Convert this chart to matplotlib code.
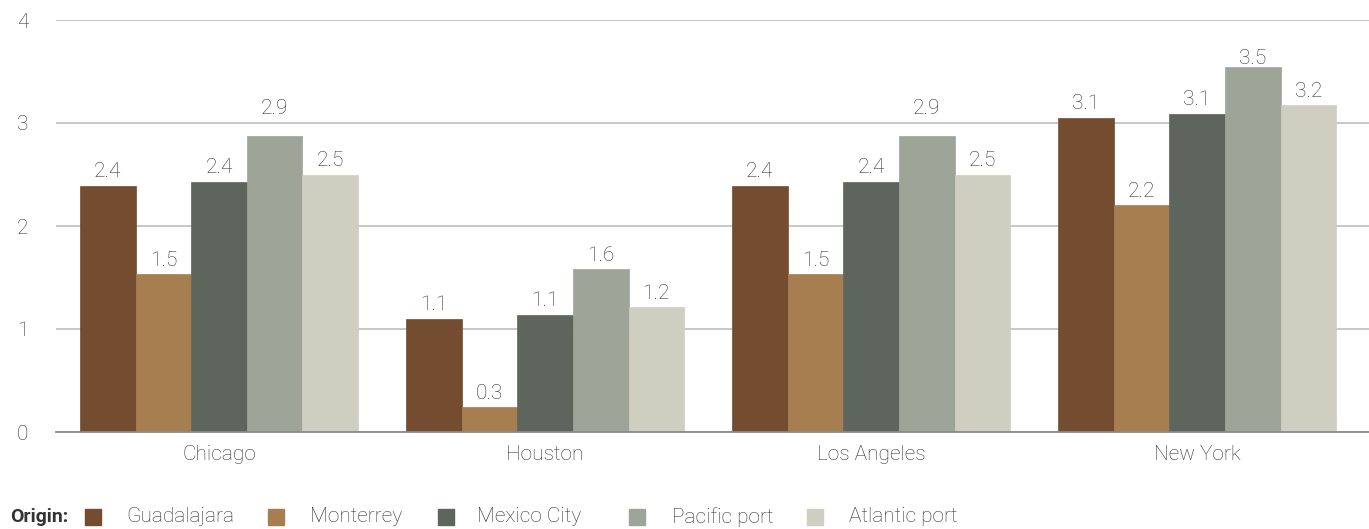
import numpy as np
import matplotlib
matplotlib.use("Agg")
from matplotlib import pyplot as plt
from matplotlib.patches import Rectangle

# データ
cities = ["Chicago", "Houston", "Los Angeles", "New York"]
origins = ["Guadalajara", "Monterrey", "Mexico City", "Pacific port", "Atlantic port"]
colors = ["#744D30", "#A67E4F", "#5E655C", "#9FA499", "#CECFC1"]

guadalajara = [2.39, 1.10, 2.39, 3.05]
monterrey = [1.53, 0.24, 1.53, 2.20]
mexico_city = [2.43, 1.14, 2.43, 3.09]
pacific_port = [2.87, 1.58, 2.87, 3.54]
atlantic_port = [2.50, 1.21, 2.50, 3.17]

guadalajara_lbl = ["2.4", "1.1", "2.4", "3.1"]
monterrey_lbl = ["1.5", "0.3", "1.5", "2.2"]
mexico_city_lbl = ["2.4", "1.1", "2.4", "3.1"]
pacific_port_lbl = ["2.9", "1.6", "2.9", "3.5"]
atlantic_port_lbl = ["2.5", "1.2", "2.5", "3.2"]

series = [guadalajara, monterrey, mexico_city, pacific_port, atlantic_port]
labels = [guadalajara_lbl, monterrey_lbl, mexico_city_lbl, pacific_port_lbl, atlantic_port_lbl]

plt.rcParams["font.family"] = ["Roboto", "DejaVu Sans"]
text_color = "#333333"

W, H = 1369, 529
fig = plt.figure(figsize=(W / 100, H / 100), dpi=100)
ax = fig.add_axes([56 / W, 1 - 432 / H, (W - 56) / W, (432 - 20) / H])

# ラベルとバー上端の間隔(px) -- グリッド線を避けるものだけ別扱い
gap_px = {(3, 0): 22, (3, 2): 22, (3, 3): 3}

x = np.arange(len(cities))
bw = 56 / 328
for i, (vals, lbls) in enumerate(zip(series, labels)):
    pos = x + (i - 2) * bw
    ax.bar(pos, vals, width=bw, color=colors[i], edgecolor=colors[i], linewidth=0.5)
    for j, (px, v, t) in enumerate(zip(pos, vals, lbls)):
        g = gap_px.get((i, j), 8.5)
        ax.annotate(t, (px, v), xytext=(0, g * 0.72), textcoords="offset points",
                    ha="center", va="baseline", fontsize=15, fontweight="light",
                    color=text_color)

ax.set_xlim(-0.5, 3.5 + 9 / 328)
ax.set_ylim(0, 4)
ax.set_yticks([0, 1, 2, 3, 4])
ax.set_xticks(x)
ax.set_xticklabels(cities)
ax.yaxis.grid(True, color="#C4C4C4", linewidth=1.3)
ax.set_axisbelow(True)
for s in ["top", "right", "left"]:
    ax.spines[s].set_visible(False)
ax.spines["bottom"].set_color("#8A8A8A")
ax.spines["bottom"].set_linewidth(1.3)
ax.tick_params(axis="both", length=0, labelsize=15, labelcolor=text_color)
ax.tick_params(axis="x", pad=9)
ax.tick_params(axis="y", pad=0)
for t in ax.get_xticklabels() + ax.get_yticklabels():
    t.set_fontweight("light")
for t in ax.get_yticklabels():
    t.set_horizontalalignment("left")
    t.set_transform(matplotlib.transforms.blended_transform_factory(fig.transFigure, ax.transData))
    t.set_x(17 / W)

# 凡例
ly = 1 - 517 / H
fig.text(10 / W, ly, "Origin:", fontsize=14, fontweight="bold", color=text_color, va="center")
mk_x = [85, 268, 438, 629, 807]
tx_x = [126, 310, 477, 672, 849]
for name, c, mx, tx in zip(origins, colors, mk_x, tx_x):
    fig.patches.append(Rectangle((mx / W, 1 - 525 / H), 16 / W, 16 / H,
                                 transform=fig.transFigure, color=c))
    fig.text(tx / W, ly, name, fontsize=15, fontweight="light", color=text_color, va="center")

fig.savefig("out.png", dpi=100)
